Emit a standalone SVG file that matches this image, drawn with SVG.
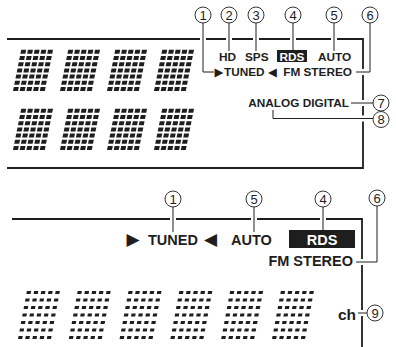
<svg xmlns="http://www.w3.org/2000/svg" xmlns:xlink="http://www.w3.org/1999/xlink" width="396" height="347" viewBox="0 0 396 347">
<style>
.pl{stroke:#1e1e1e;stroke-width:1.8;fill:none}
.ld{stroke:#1e1e1e;stroke-width:1;fill:none}
.gap{stroke:#fff;stroke-width:6;fill:none}
.cn circle{fill:#fff;stroke:#1e1e1e;stroke-width:0.9}
.cn text{font-family:"Liberation Sans",Arial,sans-serif;font-size:13px;fill:#1e1e1e;text-anchor:middle}
.t{font-family:"Liberation Sans",Arial,sans-serif;font-weight:bold;fill:#1e1e1e}
.s{font-size:11.8px}
.b{font-size:14.5px}
.tri{font-family:"DejaVu Sans",sans-serif;fill:#1e1e1e}
.w{fill:#fff;text-anchor:middle}
.dA rect{fill:#1e1e1e}
.dB rect{fill:#1e1e1e}
</style>
<defs>
<g id="dA" class="dA" transform="skewX(-11.3)">
<rect x="0" y="-41.2" width="5" height="4"/><rect x="6.7" y="-41.2" width="5" height="4"/><rect x="13.4" y="-41.2" width="5" height="4"/><rect x="20.1" y="-41.2" width="5" height="4"/><rect x="26.8" y="-41.2" width="5" height="4"/>
<rect x="0" y="-35" width="5" height="4"/><rect x="6.7" y="-35" width="5" height="4"/><rect x="13.4" y="-35" width="5" height="4"/><rect x="20.1" y="-35" width="5" height="4"/><rect x="26.8" y="-35" width="5" height="4"/>
<rect x="0" y="-28.8" width="5" height="4"/><rect x="6.7" y="-28.8" width="5" height="4"/><rect x="13.4" y="-28.8" width="5" height="4"/><rect x="20.1" y="-28.8" width="5" height="4"/><rect x="26.8" y="-28.8" width="5" height="4"/>
<rect x="0" y="-22.6" width="5" height="4"/><rect x="6.7" y="-22.6" width="5" height="4"/><rect x="13.4" y="-22.6" width="5" height="4"/><rect x="20.1" y="-22.6" width="5" height="4"/><rect x="26.8" y="-22.6" width="5" height="4"/>
<rect x="0" y="-16.4" width="5" height="4"/><rect x="6.7" y="-16.4" width="5" height="4"/><rect x="13.4" y="-16.4" width="5" height="4"/><rect x="20.1" y="-16.4" width="5" height="4"/><rect x="26.8" y="-16.4" width="5" height="4"/>
<rect x="0" y="-10.2" width="5" height="4"/><rect x="6.7" y="-10.2" width="5" height="4"/><rect x="13.4" y="-10.2" width="5" height="4"/><rect x="20.1" y="-10.2" width="5" height="4"/><rect x="26.8" y="-10.2" width="5" height="4"/>
<rect x="0" y="-4" width="5" height="4"/><rect x="6.7" y="-4" width="5" height="4"/><rect x="13.4" y="-4" width="5" height="4"/><rect x="20.1" y="-4" width="5" height="4"/><rect x="26.8" y="-4" width="5" height="4"/>
</g>
<g id="dB" class="dB" transform="skewX(-10.5)">
<rect x="0" y="-48" width="4.2" height="3"/><rect x="7.2" y="-48" width="4.2" height="3"/><rect x="14.4" y="-48" width="4.2" height="3"/><rect x="21.6" y="-48" width="4.2" height="3"/><rect x="28.8" y="-48" width="4.2" height="3"/>
<rect x="0" y="-40.5" width="4.2" height="3"/><rect x="7.2" y="-40.5" width="4.2" height="3"/><rect x="14.4" y="-40.5" width="4.2" height="3"/><rect x="21.6" y="-40.5" width="4.2" height="3"/><rect x="28.8" y="-40.5" width="4.2" height="3"/>
<rect x="0" y="-33" width="4.2" height="3"/><rect x="7.2" y="-33" width="4.2" height="3"/><rect x="14.4" y="-33" width="4.2" height="3"/><rect x="21.6" y="-33" width="4.2" height="3"/><rect x="28.8" y="-33" width="4.2" height="3"/>
<rect x="0" y="-25.5" width="4.2" height="3"/><rect x="7.2" y="-25.5" width="4.2" height="3"/><rect x="14.4" y="-25.5" width="4.2" height="3"/><rect x="21.6" y="-25.5" width="4.2" height="3"/><rect x="28.8" y="-25.5" width="4.2" height="3"/>
<rect x="0" y="-18" width="4.2" height="3"/><rect x="7.2" y="-18" width="4.2" height="3"/><rect x="14.4" y="-18" width="4.2" height="3"/><rect x="21.6" y="-18" width="4.2" height="3"/><rect x="28.8" y="-18" width="4.2" height="3"/>
<rect x="0" y="-10.5" width="4.2" height="3"/><rect x="7.2" y="-10.5" width="4.2" height="3"/><rect x="14.4" y="-10.5" width="4.2" height="3"/><rect x="21.6" y="-10.5" width="4.2" height="3"/><rect x="28.8" y="-10.5" width="4.2" height="3"/>
<rect x="0" y="-3" width="4.2" height="3"/><rect x="7.2" y="-3" width="4.2" height="3"/><rect x="14.4" y="-3" width="4.2" height="3"/><rect x="21.6" y="-3" width="4.2" height="3"/><rect x="28.8" y="-3" width="4.2" height="3"/>
</g>
</defs>

<g id="connectors">
<path class="pl" d="M7,39 H363 V168 H7"/>
<path class="pl" d="M12,219 H362 V347"/>
<g class="gap">
<path d="M203,35 V43 M229,35 V43 M256,35 V43 M293,35 V43 M334,35 V43"/>
<path d="M359,72 H367 M359,103 H367 M359,118.5 H367"/>
<path d="M173,215 V223 M254,215 V223 M323,215 V223"/>
<path d="M358,262 H366 M358,313 H366"/>
</g>
<path class="ld" d="M203,23 V72 H214"/>
<path class="ld" d="M229,23 V51"/>
<path class="ld" d="M256,23 V51"/>
<path class="ld" d="M293,23 V50"/>
<path class="ld" d="M334,23 V51"/>
<path class="ld" d="M370,23 V72 H356"/>
<path class="ld" d="M351,103 H373"/>
<path class="ld" d="M373,118.5 H273 V110"/>
<path class="ld" d="M173,207 V232"/>
<path class="ld" d="M254,207 V232"/>
<path class="ld" d="M323,207 V230"/>
<path class="ld" d="M377,206 V262 H356"/>
<path class="ld" d="M358,313 H367"/>
</g>

<g id="display-top">
<use xlink:href="#dA" x="13" y="91"/><use xlink:href="#dA" x="60" y="91"/><use xlink:href="#dA" x="107" y="91"/><use xlink:href="#dA" x="154" y="91"/>
<use xlink:href="#dA" x="13" y="150"/><use xlink:href="#dA" x="60" y="150"/><use xlink:href="#dA" x="107" y="150"/><use xlink:href="#dA" x="154" y="150"/>
</g>
<g id="display-bottom">
<use xlink:href="#dB" x="18" y="339"/><use xlink:href="#dB" x="68.8" y="339"/><use xlink:href="#dB" x="119.6" y="339"/><use xlink:href="#dB" x="170.4" y="339"/><use xlink:href="#dB" x="221.2" y="339"/><use xlink:href="#dB" x="272" y="339"/>
</g>

<g id="label-hd"><text class="t s" x="219" y="61">HD</text></g>
<g id="label-sps"><text class="t s" x="245" y="61">SPS</text></g>
<g id="label-rds-top"><rect x="277" y="50" width="30" height="12" fill="#1e1e1e"/><text class="t s w" x="292" y="61">RDS</text></g>
<g id="label-auto-top"><text class="t s" x="318" y="61">AUTO</text></g>
<g id="label-tuned-top"><text class="tri" x="214.5" y="76" font-size="11.5">▶</text><text class="t s" x="224" y="76">TUNED</text><text class="tri" x="268" y="76" font-size="11.5">◀</text></g>
<g id="label-fmstereo-top"><text class="t s" x="352" y="76" text-anchor="end">FM STEREO</text></g>
<g id="label-analog"><text class="t s" x="349" y="107" text-anchor="end">ANALOG DIGITAL</text></g>

<g id="label-tuned-bot"><text class="tri" x="126.5" y="245" font-size="17">▶</text><text class="t b" x="148" y="245">TUNED</text><text class="tri" x="204" y="245" font-size="17">◀</text></g>
<g id="label-auto-bot"><text class="t b" x="231" y="245">AUTO</text></g>
<g id="label-rds-bot"><rect x="289" y="230" width="66" height="18" fill="#1e1e1e"/><text class="t b w" x="322" y="245">RDS</text></g>
<g id="label-fmstereo-bot"><text class="t b" x="353" y="266" text-anchor="end">FM STEREO</text></g>
<g id="label-ch"><text class="t" x="356" y="320" font-size="15.5" text-anchor="end">ch</text></g>

<g id="n1" class="cn"><circle cx="203" cy="15" r="8"/><text x="203" y="19.7">1</text></g>
<g id="n2" class="cn"><circle cx="229" cy="15" r="8"/><text x="229" y="19.7">2</text></g>
<g id="n3" class="cn"><circle cx="256" cy="15" r="8"/><text x="256" y="19.7">3</text></g>
<g id="n4" class="cn"><circle cx="293" cy="15" r="8"/><text x="293" y="19.7">4</text></g>
<g id="n5" class="cn"><circle cx="334" cy="15" r="8"/><text x="334" y="19.7">5</text></g>
<g id="n6" class="cn"><circle cx="370" cy="15" r="8"/><text x="370" y="19.7">6</text></g>
<g id="n7" class="cn"><circle cx="381" cy="103" r="8"/><text x="381" y="107.7">7</text></g>
<g id="n8" class="cn"><circle cx="381" cy="119.5" r="8"/><text x="381" y="124.2">8</text></g>
<g id="n1b" class="cn"><circle cx="173" cy="199" r="8"/><text x="173" y="203.7">1</text></g>
<g id="n5b" class="cn"><circle cx="254" cy="199" r="8"/><text x="254" y="203.7">5</text></g>
<g id="n4b" class="cn"><circle cx="323" cy="199" r="8"/><text x="323" y="203.7">4</text></g>
<g id="n6b" class="cn"><circle cx="377" cy="198" r="8"/><text x="377" y="202.7">6</text></g>
<g id="n9" class="cn"><circle cx="375" cy="313" r="8"/><text x="375" y="317.7">9</text></g>
</svg>
